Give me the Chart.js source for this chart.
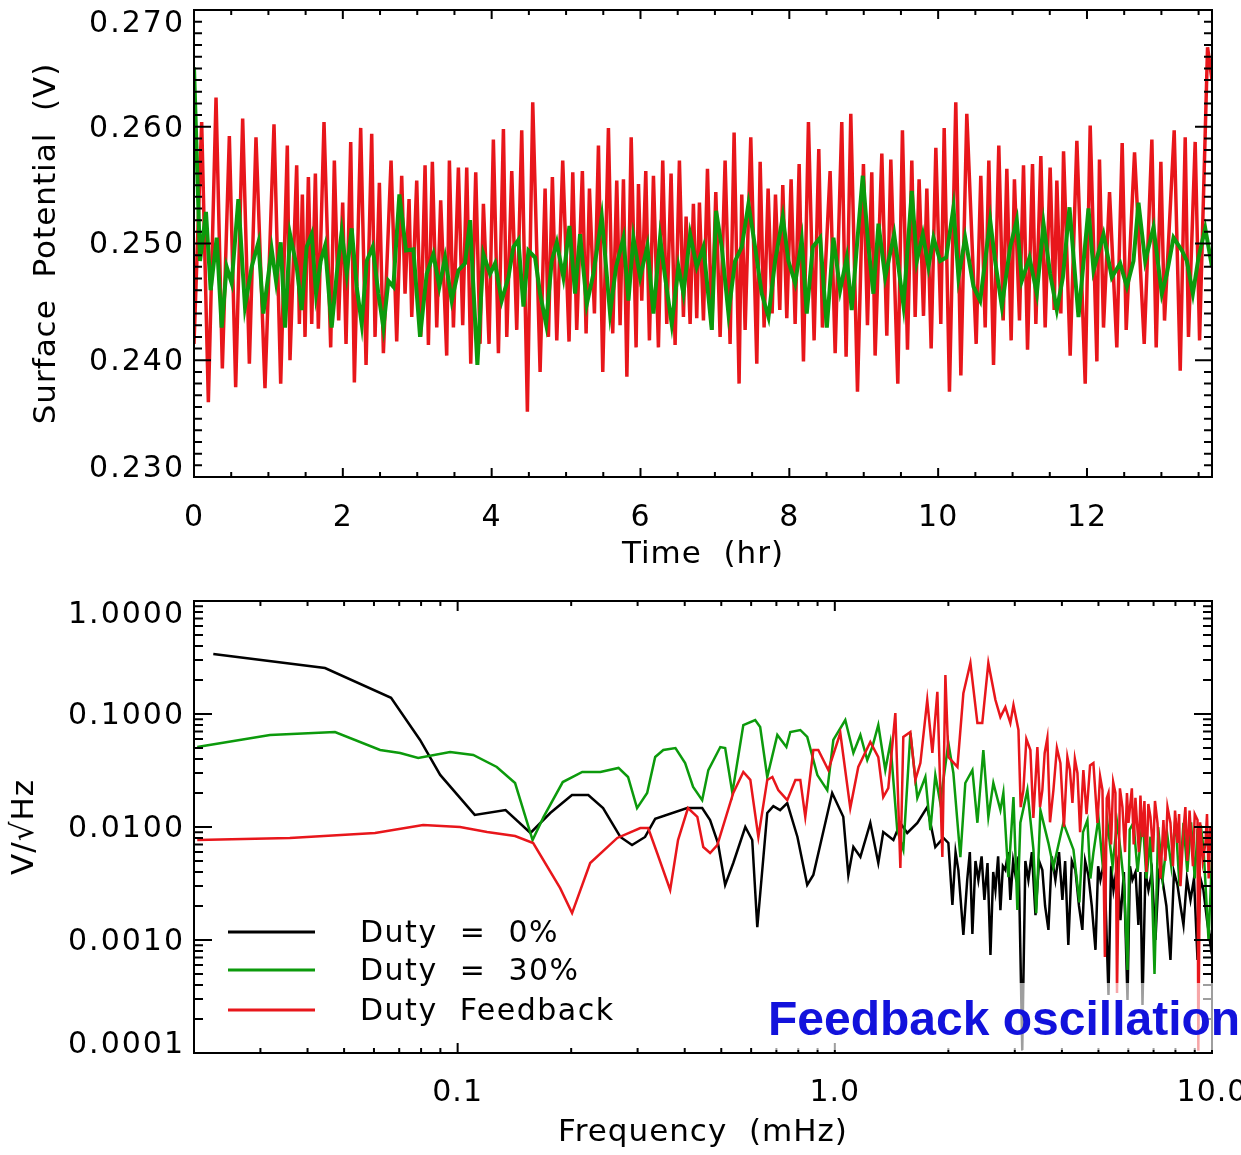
<!DOCTYPE html>
<html>
<head>
<meta charset="utf-8">
<script src="https://cdn.jsdelivr.net/npm/chart.js@4.4.1/dist/chart.umd.min.js"></script>
<style>
  body { margin: 0; background: #fff; width: 1241px; height: 1155px; overflow: hidden; position: relative; }
  canvas { position: absolute; left: 0; }
  #timeChart { top: 0; }
  #specChart { top: 590px; }
</style>
</head>
<body>
<canvas id="timeChart" width="1241" height="590"></canvas>
<canvas id="specChart" width="1241" height="565"></canvas>
<script>
// --- Top panel: surface potential vs time ---
const timeRed = [
  0, 0.103, 0.193, 0.296, 0.381, 0.475, 0.560, 0.654, 0.744, 0.833,
  0.954, 1.075, 1.165, 1.254, 1.290, 1.380, 1.416, 1.456, 1.492, 1.537,
  1.582, 1.631, 1.671, 1.747, 1.837, 1.886, 1.944, 1.998, 2.043, 2.106,
  2.155, 2.240, 2.312, 2.388, 2.433, 2.491, 2.545, 2.648, 2.724, 2.791,
  2.836, 2.890, 2.926, 2.993, 3.047, 3.105, 3.150, 3.203, 3.262, 3.315,
  3.396, 3.432, 3.486, 3.553, 3.611, 3.665, 3.719, 3.786, 3.844, 3.889,
  3.965, 4.023, 4.091, 4.158, 4.203, 4.270, 4.337, 4.404, 4.480, 4.552,
  4.651, 4.718, 4.763, 4.816, 4.875, 4.955, 5.040, 5.090, 5.143, 5.219,
  5.269, 5.314, 5.381, 5.435, 5.493, 5.569, 5.627, 5.681, 5.726, 5.771,
  5.817, 5.875, 5.941, 5.973, 6.017, 6.071, 6.120, 6.174, 6.241, 6.299,
  6.353, 6.411, 6.465, 6.523, 6.577, 6.613, 6.667, 6.711, 6.756, 6.792,
  6.846, 6.900, 6.958, 7.012, 7.070, 7.137, 7.204, 7.258, 7.325, 7.361,
  7.406, 7.482, 7.563, 7.608, 7.661, 7.715, 7.769, 7.814, 7.872, 7.912,
  7.966, 8.024, 8.078, 8.132, 8.190, 8.257, 8.333, 8.396, 8.445, 8.548,
  8.616, 8.705, 8.763, 8.826, 8.916, 8.996, 9.050, 9.108, 9.153, 9.243,
  9.310, 9.364, 9.458, 9.520, 9.588, 9.646, 9.691, 9.744, 9.803, 9.848,
  9.906, 9.969, 10.036, 10.081, 10.152, 10.237, 10.305, 10.385, 10.511, 10.573,
  10.632, 10.681, 10.744, 10.815, 10.874, 10.923, 10.981, 11.025, 11.093, 11.147,
  11.201, 11.268, 11.313, 11.380, 11.438, 11.505, 11.559, 11.595, 11.649, 11.685,
  11.774, 11.864, 11.976, 12.043, 12.133, 12.168, 12.222, 12.303, 12.401, 12.473,
  12.527, 12.639, 12.769, 12.872, 12.930, 12.993, 13.042, 13.172, 13.253, 13.320,
  13.364, 13.454, 13.513, 13.620, 13.680
];
const potRed = [
  0.2414, 0.2604, 0.2364, 0.2625, 0.2393, 0.2592, 0.2377, 0.2607, 0.2397, 0.2591,
  0.2376, 0.2602, 0.2380, 0.2584, 0.2400, 0.2567, 0.2431, 0.2542, 0.2420, 0.2557,
  0.2431, 0.2560, 0.2427, 0.2604, 0.2411, 0.2571, 0.2434, 0.2535, 0.2414, 0.2587,
  0.2381, 0.2599, 0.2396, 0.2594, 0.2420, 0.2552, 0.2406, 0.2571, 0.2416, 0.2558,
  0.2457, 0.2538, 0.2437, 0.2554, 0.2420, 0.2567, 0.2413, 0.2570, 0.2428, 0.2537,
  0.2404, 0.2571, 0.2428, 0.2565, 0.2430, 0.2565, 0.2397, 0.2561, 0.2414, 0.2534,
  0.2414, 0.2589, 0.2406, 0.2598, 0.2420, 0.2562, 0.2426, 0.2597, 0.2356, 0.2621,
  0.2390, 0.2547, 0.2420, 0.2557, 0.2417, 0.2571, 0.2416, 0.2561, 0.2426, 0.2562,
  0.2423, 0.2547, 0.2440, 0.2584, 0.2390, 0.2599, 0.2423, 0.2554, 0.2430, 0.2555,
  0.2386, 0.2591, 0.2411, 0.2551, 0.2451, 0.2562, 0.2417, 0.2558, 0.2411, 0.2571,
  0.2431, 0.2560, 0.2413, 0.2571, 0.2437, 0.2523, 0.2431, 0.2534, 0.2436, 0.2535,
  0.2434, 0.2564, 0.2426, 0.2544, 0.2420, 0.2571, 0.2414, 0.2595, 0.2380, 0.2542,
  0.2426, 0.2591, 0.2397, 0.2570, 0.2428, 0.2547, 0.2440, 0.2542, 0.2443, 0.2550,
  0.2436, 0.2555, 0.2431, 0.2568, 0.2399, 0.2604, 0.2417, 0.2581, 0.2428, 0.2562,
  0.2406, 0.2604, 0.2403, 0.2611, 0.2373, 0.2568, 0.2430, 0.2561, 0.2404, 0.2577,
  0.2421, 0.2572, 0.2380, 0.2597, 0.2409, 0.2571, 0.2437, 0.2555, 0.2438, 0.2547,
  0.2410, 0.2582, 0.2431, 0.2599, 0.2373, 0.2621, 0.2387, 0.2611, 0.2414, 0.2558,
  0.2428, 0.2571, 0.2396, 0.2584, 0.2434, 0.2564, 0.2417, 0.2555, 0.2434, 0.2567,
  0.2409, 0.2568, 0.2431, 0.2575, 0.2428, 0.2565, 0.2443, 0.2554, 0.2440, 0.2579,
  0.2404, 0.2588, 0.2380, 0.2601, 0.2399, 0.2572, 0.2428, 0.2544, 0.2411, 0.2586,
  0.2426, 0.2578, 0.2414, 0.2589, 0.2411, 0.2570, 0.2434, 0.2597, 0.2391, 0.2591,
  0.2420, 0.2587, 0.2417, 0.2668, 0.2640
];
const timeGreen = [
  0, 0.081, 0.161, 0.224, 0.305, 0.372, 0.439, 0.506, 0.596, 0.685,
  0.775, 0.865, 0.932, 1.044, 1.102, 1.165, 1.223, 1.290, 1.380, 1.447,
  1.514, 1.582, 1.640, 1.703, 1.761, 1.850, 1.918, 1.985, 2.052, 2.119,
  2.186, 2.254, 2.321, 2.401, 2.478, 2.545, 2.612, 2.679, 2.760, 2.849,
  2.948, 3.038, 3.127, 3.217, 3.297, 3.374, 3.463, 3.553, 3.642, 3.710,
  3.754, 3.808, 3.889, 3.978, 4.046, 4.135, 4.225, 4.292, 4.359, 4.427,
  4.494, 4.583, 4.651, 4.731, 4.807, 4.875, 4.964, 5.045, 5.121, 5.188,
  5.278, 5.367, 5.480, 5.591, 5.672, 5.771, 5.838, 5.905, 5.995, 6.093,
  6.174, 6.263, 6.331, 6.420, 6.510, 6.577, 6.667, 6.756, 6.846, 6.958,
  7.016, 7.092, 7.182, 7.271, 7.361, 7.451, 7.540, 7.630, 7.720, 7.809,
  7.912, 7.988, 8.078, 8.167, 8.234, 8.315, 8.414, 8.504, 8.593, 8.683,
  8.772, 8.839, 8.907, 8.987, 9.063, 9.130, 9.198, 9.288, 9.409, 9.534,
  9.646, 9.713, 9.794, 9.870, 9.937, 10.027, 10.108, 10.206, 10.273, 10.363,
  10.475, 10.565, 10.699, 10.766, 10.856, 10.968, 11.057, 11.124, 11.228, 11.326,
  11.416, 11.505, 11.595, 11.676, 11.765, 11.886, 12.020, 12.088, 12.222, 12.334,
  12.446, 12.536, 12.625, 12.692, 12.782, 12.894, 13.006, 13.073, 13.163, 13.275,
  13.342, 13.423, 13.499, 13.589, 13.680
];
const potGreen = [
  0.2651, 0.2485, 0.2527, 0.2460, 0.2505, 0.2428, 0.2480, 0.2466, 0.2538, 0.2446,
  0.2480, 0.2501, 0.2440, 0.2495, 0.2468, 0.2501, 0.2428, 0.2508, 0.2480, 0.2443,
  0.2497, 0.2508, 0.2457, 0.2485, 0.2498, 0.2428, 0.2474, 0.2510, 0.2474, 0.2513,
  0.2463, 0.2431, 0.2485, 0.2497, 0.2457, 0.2428, 0.2468, 0.2463, 0.2542, 0.2494,
  0.2495, 0.2420, 0.2474, 0.2491, 0.2463, 0.2488, 0.2451, 0.2477, 0.2483, 0.2520,
  0.2463, 0.2396, 0.2491, 0.2474, 0.2483, 0.2451, 0.2471, 0.2497, 0.2503, 0.2446,
  0.2494, 0.2488, 0.2457, 0.2431, 0.2485, 0.2501, 0.2471, 0.2515, 0.2457, 0.2508,
  0.2448, 0.2474, 0.2523, 0.2440, 0.2480, 0.2505, 0.2451, 0.2505, 0.2471, 0.2498,
  0.2440, 0.2505, 0.2471, 0.2431, 0.2480, 0.2457, 0.2508, 0.2480, 0.2497, 0.2426,
  0.2528, 0.2497, 0.2440, 0.2485, 0.2497, 0.2534, 0.2497, 0.2457, 0.2437, 0.2485,
  0.2523, 0.2485, 0.2466, 0.2503, 0.2440, 0.2497, 0.2505, 0.2428, 0.2505, 0.2460,
  0.2488, 0.2443, 0.2497, 0.2558, 0.2497, 0.2457, 0.2517, 0.2471, 0.2508, 0.2447,
  0.2545, 0.2485, 0.2508, 0.2480, 0.2505, 0.2485, 0.2488, 0.2531, 0.2471, 0.2505,
  0.2463, 0.2451, 0.2520, 0.2485, 0.2446, 0.2497, 0.2520, 0.2468, 0.2488, 0.2457,
  0.2517, 0.2474, 0.2443, 0.2471, 0.2531, 0.2437, 0.2530, 0.2477, 0.2508, 0.2471,
  0.2483, 0.2463, 0.2485, 0.2535, 0.2485, 0.2514, 0.2457, 0.2474, 0.2505, 0.2494,
  0.2485, 0.2457, 0.2488, 0.2513, 0.2480
];
const timeTicks = [0, 2, 4, 6, 8, 10, 12];
const potTicks = [0.23, 0.24, 0.25, 0.26, 0.27];

// --- Bottom panel: amplitude spectral density ---
const freqBlack = [
  0.0225, 0.0445, 0.0666, 0.0795, 0.0899, 0.111, 0.134, 0.156, 0.176, 0.201,
  0.222, 0.243, 0.270, 0.290, 0.314, 0.334, 0.406, 0.445, 0.467, 0.490,
  0.512, 0.538, 0.579, 0.604, 0.623, 0.662, 0.687, 0.716, 0.748, 0.796,
  0.845, 0.877, 0.984, 1.053, 1.086, 1.120, 1.169, 1.242, 1.304, 1.344,
  1.430, 1.492, 1.556, 1.655, 1.758, 1.847, 1.940, 2.000, 2.050, 2.090,
  2.126, 2.192, 2.244, 2.280, 2.316, 2.360, 2.402, 2.450, 2.492, 2.540,
  2.586, 2.630, 2.666, 2.710, 2.748, 2.790, 2.832, 2.880, 2.920, 2.970,
  3.012, 3.070, 3.140, 3.200, 3.260, 3.330, 3.404, 3.480, 3.550, 3.610,
  3.684, 3.760, 3.844, 3.930, 4.012, 4.080, 4.160, 4.250, 4.344, 4.440,
  4.532, 4.610, 4.700, 4.800, 4.910, 4.990, 5.060, 5.180, 5.316, 5.400,
  5.480, 5.600, 5.718, 5.840, 5.970, 6.060, 6.152, 6.270, 6.380, 6.460,
  6.542, 6.660, 6.784, 6.930, 7.080, 7.230, 7.390, 7.570, 7.760, 7.930,
  8.100, 8.250, 8.402, 8.580, 8.770, 8.960, 9.154, 9.320, 9.490, 9.700,
  9.910, 10.0
];
const asdBlack = [
  0.339, 0.255, 0.139, 0.0589, 0.0289, 0.0128, 0.0141, 0.00885, 0.0133, 0.0192,
  0.0192, 0.0147, 0.00816, 0.00693, 0.00816, 0.0118, 0.0147, 0.0147, 0.0115, 0.0072,
  0.00307, 0.0048, 0.0100, 0.00767, 0.00130, 0.0133, 0.0153, 0.0141, 0.0163, 0.00816,
  0.00307, 0.00376, 0.0200, 0.0123, 0.00376, 0.00665, 0.00543, 0.01085, 0.0048, 0.00903,
  0.00767, 0.01085, 0.00885, 0.01085, 0.01503, 0.00665, 0.0080, 0.00722, 0.00204, 0.0060,
  0.00416, 0.00111, 0.0034, 0.0060, 0.00113, 0.0050, 0.0034, 0.0055, 0.00226, 0.0048,
  0.000736, 0.0040, 0.00277, 0.0055, 0.00184, 0.0045, 0.00416, 0.0060, 0.00226, 0.0050,
  0.00376, 0.0055, 0.000106, 0.0050, 0.0034, 0.0060, 0.00166, 0.0050, 0.00416, 0.0020,
  0.00123, 0.0055, 0.0034, 0.0060, 0.00226, 0.0050, 0.000903, 0.0050, 0.00416, 0.0020,
  0.00123, 0.0050, 0.00376, 0.0020, 0.000816, 0.0045, 0.0034, 0.0050, 0.000326, 0.0045,
  0.00277, 0.0045, 0.0015, 0.0040, 0.000294, 0.0045, 0.0034, 0.0040, 0.00136, 0.0040,
  0.000266, 0.0040, 0.00277, 0.0040, 0.001, 0.0040, 0.0034, 0.0020, 0.000665, 0.0040,
  0.00307, 0.0020, 0.00136, 0.0035, 0.00226, 0.0035, 0.000665, 0.0035, 0.00277, 0.0015,
  0.000903, 0.00123
];
const freqGreen = [
  0.0204, 0.0318, 0.0473, 0.0623, 0.0704, 0.0786, 0.0955, 0.110, 0.127, 0.142,
  0.158, 0.169, 0.190, 0.214, 0.239, 0.267, 0.283, 0.299, 0.318, 0.334,
  0.351, 0.378, 0.401, 0.421, 0.445, 0.462, 0.497, 0.512, 0.535, 0.572,
  0.615, 0.634, 0.662, 0.704, 0.744, 0.762, 0.810, 0.845, 0.899, 0.955,
  0.991, 1.066, 1.120, 1.169, 1.219, 1.257, 1.304, 1.361, 1.404, 1.464,
  1.519, 1.586, 1.655, 1.738, 1.792, 1.847, 1.904, 2.000, 2.062, 2.152,
  2.218, 2.316, 2.388, 2.476, 2.553, 2.632, 2.748, 2.798, 2.885, 2.976,
  3.048, 3.104, 3.240, 3.362, 3.420, 3.508, 3.684, 3.798, 4.036, 4.292,
  4.450, 4.550, 4.674, 4.760, 4.848, 5.000, 5.150, 5.282, 5.450, 5.600,
  5.718, 5.850, 5.970, 6.050, 6.192, 6.350, 6.550, 6.700, 6.868, 7.040,
  7.200, 7.400, 7.622, 7.800, 8.000, 8.200, 8.402, 8.600, 8.800, 9.000,
  9.154, 9.350, 9.500, 9.790, 10.0
];
const asdGreen = [
  0.0510, 0.0652, 0.0693, 0.0480, 0.0452, 0.0408, 0.0461, 0.0434, 0.0340, 0.0245,
  0.00767, 0.0123, 0.0250, 0.0307, 0.0307, 0.0333, 0.0277, 0.0147, 0.0200, 0.0416,
  0.0480, 0.0500, 0.0368, 0.0226, 0.0173, 0.0319, 0.0510, 0.0500, 0.0200, 0.0799,
  0.0885, 0.0767, 0.0277, 0.0652, 0.0510, 0.0693, 0.0722, 0.0626, 0.0288, 0.0212,
  0.0589, 0.0885, 0.0452, 0.0652, 0.0392, 0.0510, 0.0799, 0.0319, 0.0554, 0.0094,
  0.0063, 0.0679, 0.0181, 0.0277, 0.0094, 0.0288, 0.0163, 0.0554, 0.0301, 0.0054,
  0.0245, 0.0319, 0.0109, 0.0480, 0.0123, 0.0245, 0.0141, 0.0200, 0.0036, 0.0184,
  0.00184, 0.0109, 0.0212, 0.0063, 0.00173, 0.0141, 0.0072, 0.0044, 0.0109, 0.0063,
  0.00215, 0.0090, 0.0115, 0.0035, 0.0059, 0.0120, 0.0040, 0.0109, 0.0045, 0.0110,
  0.0063, 0.0030, 0.000543, 0.0095, 0.0109, 0.0040, 0.0120, 0.0035, 0.0082, 0.0005,
  0.0100, 0.0035, 0.0082, 0.0045, 0.0120, 0.0030, 0.0109, 0.0040, 0.0110, 0.0035,
  0.0094, 0.0100, 0.0063, 0.0010, 0.0054
];
const freqRed = [
  0.0204, 0.0359, 0.0604, 0.0810, 0.1015, 0.1197, 0.142, 0.1586, 0.187, 0.2011,
  0.2246, 0.265, 0.305, 0.320, 0.338, 0.366, 0.384, 0.408, 0.432, 0.448,
  0.467, 0.488, 0.538, 0.572, 0.597, 0.627, 0.662, 0.683, 0.708, 0.748,
  0.786, 0.810, 0.835, 0.877, 0.904, 0.961, 1.034, 1.099, 1.154, 1.242,
  1.304, 1.344, 1.386, 1.447, 1.492, 1.519, 1.586, 1.635, 1.686, 1.758,
  1.814, 1.870, 1.928, 1.964, 2.000, 2.114, 2.192, 2.288, 2.388, 2.460,
  2.553, 2.666, 2.748, 2.832, 2.920, 2.976, 3.068, 3.110, 3.162, 3.220,
  3.300, 3.360, 3.444, 3.500, 3.550, 3.600, 3.660, 3.720, 3.798, 3.880,
  3.964, 4.050, 4.136, 4.200, 4.266, 4.330, 4.398, 4.470, 4.560, 4.650,
  4.750, 4.848, 4.968, 5.050, 5.124, 5.200, 5.260, 5.316, 5.400, 5.470,
  5.546, 5.600, 5.700, 5.788, 5.880, 5.950, 6.006, 6.130, 6.200, 6.266,
  6.400, 6.460, 6.542, 6.620, 6.700, 6.780, 6.868, 6.980, 7.060, 7.170,
  7.300, 7.434, 7.520, 7.620, 7.760, 7.880, 7.980, 8.100, 8.180, 8.250,
  8.402, 8.500, 8.600, 8.720, 8.900, 9.000, 9.154, 9.200, 9.300, 9.450,
  9.610, 9.700, 9.800, 9.900, 10.0
];
const asdRed = [
  0.00767, 0.0080, 0.00885, 0.0104, 0.0100, 0.00903, 0.00832, 0.00722, 0.00288, 0.00173,
  0.0048, 0.0080, 0.0098, 0.0098, 0.00589, 0.00277, 0.00767, 0.0147, 0.0123, 0.00665,
  0.00589, 0.00693, 0.0200, 0.0307, 0.0261, 0.00816, 0.0261, 0.0277, 0.0212, 0.0173,
  0.0261, 0.0261, 0.0123, 0.0480, 0.0480, 0.0319, 0.0679, 0.0147, 0.0340, 0.0565,
  0.0416, 0.0184, 0.0221, 0.102, 0.00434, 0.0626, 0.0693, 0.0261, 0.0368, 0.133,
  0.0452, 0.157, 0.00543, 0.221, 0.0416, 0.0340, 0.153, 0.283, 0.0832, 0.0832,
  0.283, 0.133, 0.094, 0.115, 0.0832, 0.120, 0.0722, 0.0150, 0.0212, 0.0600,
  0.0480, 0.0120, 0.0510, 0.0150, 0.0212, 0.0450, 0.0613, 0.0110, 0.0212, 0.0500,
  0.0368, 0.0100, 0.0416, 0.0320, 0.0163, 0.0400, 0.0301, 0.0090, 0.0319, 0.0130,
  0.0350, 0.0368, 0.01085, 0.0280, 0.0212, 0.000707, 0.0180, 0.0200, 0.0070, 0.0250,
  0.0200, 0.00034, 0.0220, 0.01503, 0.0060, 0.0200, 0.01085, 0.0220, 0.0070, 0.0181,
  0.0060, 0.0190, 0.00816, 0.0170, 0.0040, 0.0160, 0.0123, 0.0060, 0.0170, 0.01085,
  0.0035, 0.01153, 0.0050, 0.0150, 0.01085, 0.0045, 0.0140, 0.00722, 0.0130, 0.0030,
  0.0094, 0.0150, 0.0050, 0.0140, 0.0045, 0.0130, 0.01153, 0.000106, 0.0110, 0.0050,
  0.00722, 0.0130, 0.0035, 0.0100, 0.00626
];
const freqTicks = [0.1, 1, 10];
const asdTicks = [0.0001, 0.001, 0.01, 0.1, 1];
const seriesLabels = ['Duty  =  0%', 'Duty  =  30%', 'Duty  Feedback'];

const RED = '#e8161b';
const GREEN = '#0c9a0c';
const FONT = 'DejaVu Sans';

Chart.defaults.font.family = FONT;
Chart.defaults.color = '#000';

function pairs(xs, ys) {
  const n = Math.min(xs.length, ys.length);
  const out = [];
  for (let i = 0; i < n; i++) out.push({ x: xs[i], y: ys[i] });
  return out;
}

// tick marks for the IDL-style box (inward, on all four sides)
function linMarks(from, to, step, every) {
  const marks = [];
  const n = Math.round((to - from) / step);
  for (let i = 0; i <= n; i++) marks.push({ v: from + i * step, major: i % every === 0 });
  return marks;
}
function logMarks(lo, hi) {
  const marks = [];
  for (let d = -5; d <= 2; d++) {
    for (let m = 1; m <= 9; m++) {
      const v = m * Math.pow(10, d);
      if (v >= lo * 0.9999 && v <= hi * 1.0001) marks.push({ v, major: m === 1 });
    }
  }
  return marks;
}

// slightly wider lettering, closer to the original plot font
const spacing = {
  id: 'spacing',
  beforeDraw(chart) { chart.ctx.letterSpacing = '1px'; }
};

// box, inward ticks and y labels (end labels pulled inside like the original)
function boxTicks(xMarks, yMarks, xLen, yLen, yLabels, yFmt) {
  return {
    id: 'boxTicks',
    afterDatasetsDraw(chart) {
      const { ctx, chartArea: a } = chart;
      const sx = chart.scales.x, sy = chart.scales.y;
      ctx.save();
      ctx.strokeStyle = '#000';
      ctx.lineWidth = 2;
      ctx.beginPath();
      xMarks.forEach(m => {
        const p = sx.getPixelForValue(m.v);
        if (p < a.left - 1 || p > a.right + 1) return;
        const len = m.major ? xLen[0] : xLen[1];
        ctx.moveTo(p, a.bottom); ctx.lineTo(p, a.bottom - len);
        ctx.moveTo(p, a.top); ctx.lineTo(p, a.top + len);
      });
      yMarks.forEach(m => {
        const p = sy.getPixelForValue(m.v);
        if (p < a.top - 1 || p > a.bottom + 1) return;
        const len = m.major ? yLen[0] : yLen[1];
        ctx.moveTo(a.left, p); ctx.lineTo(a.left + len, p);
        ctx.moveTo(a.right, p); ctx.lineTo(a.right - len, p);
      });
      ctx.stroke();
      ctx.strokeRect(a.left, a.top, a.right - a.left, a.bottom - a.top);

      ctx.font = '30px "' + FONT + '"';
      ctx.letterSpacing = '2px';
      ctx.fillStyle = '#000';
      ctx.textAlign = 'right';
      ctx.textBaseline = 'middle';
      yLabels.forEach((v, i) => {
        let p = sy.getPixelForValue(v) + 2;
        if (i === 0) p -= 10;
        if (i === yLabels.length - 1) p += 12;
        ctx.fillText(yFmt(v), a.left - 9, p);
      });
      ctx.restore();
    }
  };
}

function fixedX(height) {
  return s => { s.height = height; s.paddingLeft = 0; s.paddingRight = 0; };
}
function fixedY(width) {
  return s => { s.width = width; s.paddingTop = 0; s.paddingBottom = 0; };
}

const tickFont = { family: FONT, size: 30 };
const titleFont = { family: FONT, size: 31 };
const fmtPot = v => v.toFixed(3);
const fmtAsd = v => v.toFixed(4);

// --- Top chart ---
new Chart(document.getElementById('timeChart'), {
  type: 'line',
  data: {
    datasets: [
      { label: 'Duty = 30%', data: pairs(timeGreen, potGreen), borderColor: GREEN, borderWidth: 4, order: 1 },
      { label: 'Duty Feedback', data: pairs(timeRed, potRed), borderColor: RED, borderWidth: 3.5, order: 2 }
    ]
  },
  options: {
    responsive: false,
    animation: false,
    devicePixelRatio: 1,
    events: [],
    elements: { point: { radius: 0 }, line: { tension: 0, fill: false } },
    layout: { padding: { top: 10, right: 29, left: 0, bottom: 0 } },
    plugins: { legend: { display: false }, tooltip: { enabled: false } },
    scales: {
      x: {
        type: 'linear', min: 0, max: 13.68,
        grid: { display: false }, border: { display: false },
        afterBuildTicks: s => { s.ticks = timeTicks.map(v => ({ value: v })); },
        ticks: { font: tickFont, padding: 15, maxRotation: 0, autoSkip: false, callback: v => String(v) },
        title: { display: true, text: 'Time  (hr)', font: titleFont, padding: { top: 0, bottom: 16 } },
        afterFit: fixedX(113)
      },
      y: {
        type: 'linear', min: 0.23, max: 0.27,
        grid: { display: false }, border: { display: false },
        afterBuildTicks: s => { s.ticks = potTicks.map(v => ({ value: v })); },
        ticks: { display: false },
        title: { display: true, text: 'Surface  Potential  (V)', font: titleFont, padding: { top: 28, bottom: 0 } },
        afterFit: fixedY(194)
      }
    }
  },
  plugins: [spacing, boxTicks(linMarks(0, 13.5, 0.5, 4), linMarks(0.23, 0.27, 0.001, 10), [9, 5], [17, 8], potTicks, fmtPot)]
});

// --- Bottom chart ---
const specLegend = {
  id: 'specLegend',
  afterDraw(chart) {
    const { ctx } = chart;
    ctx.save();
    ctx.font = '30px "' + FONT + '"';
    ctx.letterSpacing = '1.5px';
    ctx.textBaseline = 'middle';
    ctx.fillStyle = '#000';
    const rows = [342, 380, 420];
    chart.data.datasets.forEach((ds, i) => {
      const y = rows[i];
      ctx.strokeStyle = ds.borderColor;
      ctx.lineWidth = 3;
      ctx.beginPath();
      ctx.moveTo(228, y); ctx.lineTo(315, y);
      ctx.stroke();
      ctx.fillText(ds.label, 360, y + 2);
    });
    // faded box behind the annotation
    ctx.fillStyle = 'rgba(255,255,255,0.62)';
    ctx.fillRect(765, 393, 476, 67);
    ctx.font = 'bold 48px "Liberation Sans"';
    ctx.letterSpacing = '0px';
    ctx.textBaseline = 'alphabetic';
    ctx.fillStyle = '#1212dc';
    ctx.fillText('Feedback oscillation', 768, 445);
    ctx.restore();
  }
};

new Chart(document.getElementById('specChart'), {
  type: 'line',
  data: {
    datasets: [
      { label: seriesLabels[0], data: pairs(freqBlack, asdBlack), borderColor: '#000', borderWidth: 2.5, order: 3 },
      { label: seriesLabels[1], data: pairs(freqGreen, asdGreen), borderColor: GREEN, borderWidth: 2.5, order: 2 },
      { label: seriesLabels[2], data: pairs(freqRed, asdRed), borderColor: RED, borderWidth: 2.5, order: 1 }
    ]
  },
  options: {
    responsive: false,
    animation: false,
    devicePixelRatio: 1,
    events: [],
    elements: { point: { radius: 0 }, line: { tension: 0, fill: false } },
    layout: { padding: { top: 11, right: 29, left: 0, bottom: 0 } },
    plugins: { legend: { display: false }, tooltip: { enabled: false } },
    scales: {
      x: {
        type: 'logarithmic', min: 0.02, max: 10,
        grid: { display: false }, border: { display: false },
        afterBuildTicks: s => { s.ticks = freqTicks.map(v => ({ value: v })); },
        ticks: { font: tickFont, padding: 14, maxRotation: 0, autoSkip: false, callback: v => v.toFixed(1) },
        title: { display: true, text: 'Frequency  (mHz)', font: titleFont, padding: { top: 0, bottom: 3 } },
        afterFit: fixedX(102)
      },
      y: {
        type: 'logarithmic', min: 0.0001, max: 1,
        grid: { display: false }, border: { display: false },
        afterBuildTicks: s => { s.ticks = asdTicks.map(v => ({ value: v })); },
        ticks: { display: false },
        title: { display: true, text: 'V/\u221AHz', font: titleFont, padding: { top: 6, bottom: 0 } },
        afterFit: fixedY(194)
      }
    }
  },
  plugins: [spacing, boxTicks(logMarks(0.02, 10), logMarks(0.0001, 1), [10, 5], [18, 9], asdTicks, fmtAsd), specLegend]
});
</script>
</body>
</html>
